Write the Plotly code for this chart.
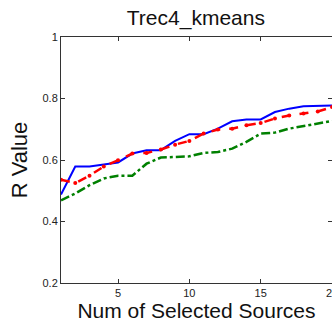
import plotly.graph_objects as go

x_vals = list(range(1, 21))
blue_vals = [0.488, 0.579, 0.579, 0.585, 0.592, 0.621, 0.632, 0.632, 0.662, 0.684,
             0.684, 0.702, 0.726, 0.732, 0.732, 0.756, 0.767, 0.775, 0.777, 0.777]
red_vals = [0.536, 0.525, 0.549, 0.579, 0.599, 0.621, 0.623, 0.634, 0.650, 0.662,
            0.686, 0.699, 0.702, 0.713, 0.720, 0.735, 0.745, 0.751, 0.758, 0.772]
green_vals = [0.469, 0.491, 0.518, 0.540, 0.549, 0.549, 0.588, 0.608, 0.610, 0.612,
              0.623, 0.626, 0.637, 0.659, 0.686, 0.689, 0.702, 0.710, 0.718, 0.727]
x_ticks = [5, 10, 15, 20]
y_ticks = [0.2, 0.4, 0.6, 0.8, 1]

fig = go.Figure()
fig.add_trace(go.Scatter(x=x_vals, y=blue_vals, mode="lines",
                         line=dict(color="#0000ff", width=2), showlegend=False))
fig.add_trace(go.Scatter(x=x_vals, y=red_vals, mode="lines+markers",
                         line=dict(color="#ff0000", width=2.5, dash="dash"),
                         marker=dict(color="#ff0000", size=4), showlegend=False))
fig.add_trace(go.Scatter(x=x_vals, y=green_vals, mode="lines",
                         line=dict(color="#008000", width=2.5, dash="dashdot"),
                         showlegend=False))

axis_common = dict(showgrid=False, zeroline=False, showline=True, linecolor="#333333",
                   linewidth=1, mirror="ticks", ticks="inside", ticklen=4,
                   tickcolor="#333333", ticklabeloverflow="allow", automargin=False,
                   tickfont=dict(family="Arial", size=11, color="#222222"))

fig.update_layout(
    width=332, height=324,
    margin=dict(l=61, r=0, t=37, b=41),
    paper_bgcolor="white", plot_bgcolor="white",
    title=dict(text="Trec4_kmeans", x=0.59, xanchor="center", y=0.945, yanchor="middle",
               font=dict(family="Arial", size=21, color="#111111")),
    xaxis=dict(range=[1, 20], tickvals=x_ticks,
               title=dict(text="Num of Selected Sources", standoff=0,
                          font=dict(family="Arial", size=21, color="#111111")),
               **axis_common),
    yaxis=dict(range=[0.2, 1], tickvals=y_ticks,
               title=dict(text="R Value", standoff=8,
                          font=dict(family="Arial", size=22, color="#111111")),
               **axis_common),
)

fig.write_html("out.html", config={"displayModeBar": False},
               post_script="document.body.style.margin='0';document.body.style.overflow='hidden';")
